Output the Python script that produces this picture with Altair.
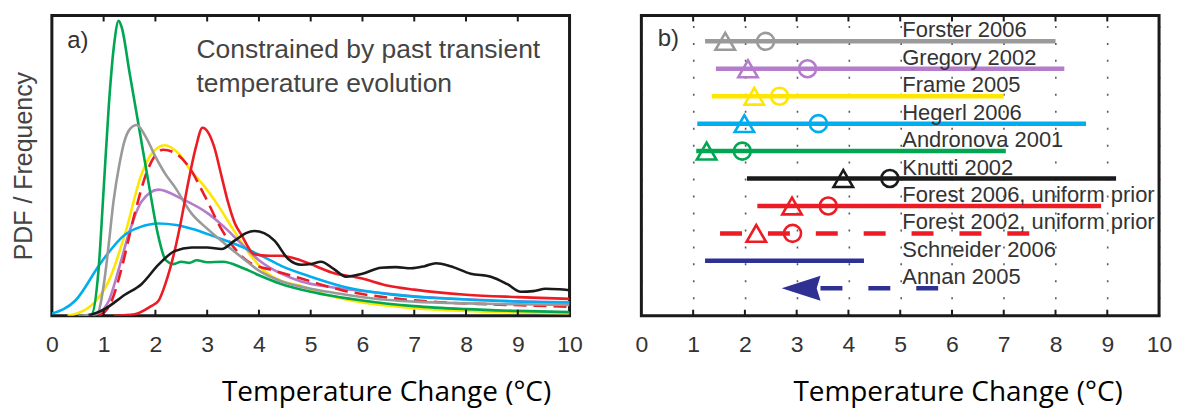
import altair as alt
import pandas as pd

# ---------------- data ----------------
tick_vals = [0, 1, 2, 3, 4, 5, 6, 7, 8, 9, 10]

series_names = ["Frame 2005", "Gregory 2002", "Forest 2002", "Hegerl 2006",
                "Andronova 2001", "Forster 2006", "Forest 2006", "Knutti 2002"]
series_colors = ["#ffe600", "#b57ccb", "#ed1c24", "#00aeef",
                 "#00a651", "#9a9a9a", "#ed1c24", "#1a1a1a"]
series_dashed = [False, False, True, False, False, False, False, False]

yellow_x = [0.3, 0.5, 0.8, 1.1, 1.41, 1.73, 1.93, 2.18, 2.45, 2.7, 2.95, 3.2, 3.53, 3.8, 4.1, 4.43, 4.8, 5.2, 6.03, 7.0, 8.0, 9.0, 10.0]
yellow_v = [0.0, 0.008, 0.04, 0.116, 0.27, 0.47, 0.54, 0.568, 0.54, 0.48, 0.43, 0.37, 0.28, 0.21, 0.15, 0.116, 0.1, 0.075, 0.043, 0.025, 0.016, 0.011, 0.008]

purple_x = [0.64, 0.9, 1.1, 1.3, 1.48, 1.73, 2.06, 2.5, 3.02, 3.3, 3.66, 4.0, 4.43, 4.8, 5.4, 5.97, 7.0, 8.0, 9.0, 10.0]
purple_v = [0.0, 0.01, 0.05, 0.16, 0.27, 0.38, 0.42, 0.39, 0.34, 0.3, 0.24, 0.185, 0.14, 0.115, 0.095, 0.083, 0.065, 0.055, 0.048, 0.045]

reddash_x = [0.9, 1.1, 1.2, 1.35, 1.6, 1.86, 2.15, 2.4, 2.63, 2.95, 3.27, 3.55, 3.79, 4.3, 4.8, 5.6, 6.5, 7.5, 8.5, 10.0]
reddash_v = [0.0, 0.03, 0.07, 0.16, 0.34, 0.49, 0.553, 0.54, 0.5, 0.4, 0.29, 0.22, 0.18, 0.15, 0.125, 0.085, 0.06, 0.045, 0.038, 0.03]

blue_x = [0.0, 0.45, 0.96, 1.41, 1.7, 2.06, 2.4, 2.7, 3.2, 3.66, 4.1, 4.43, 5.0, 5.72, 6.5, 7.5, 8.5, 10.0]
blue_v = [0.007, 0.05, 0.18, 0.27, 0.295, 0.307, 0.302, 0.29, 0.26, 0.23, 0.195, 0.166, 0.13, 0.093, 0.072, 0.058, 0.05, 0.043]

green_x = [0.6, 0.77, 0.9, 1.0, 1.1, 1.2, 1.29, 1.35, 1.5, 1.7, 1.9, 2.05, 2.2, 2.35, 2.5, 2.65, 2.8, 3.0, 3.3, 3.7, 4.0, 4.43, 5.0, 6.03, 7.0, 8.0, 9.0, 10.0]
green_v = [0.0, 0.005, 0.15, 0.42, 0.7, 0.9, 0.982, 0.96, 0.81, 0.61, 0.41, 0.27, 0.185, 0.172, 0.18, 0.176, 0.185, 0.178, 0.18, 0.158, 0.135, 0.106, 0.08, 0.05, 0.032, 0.022, 0.016, 0.012]

gray_x = [0.5, 0.87, 1.0, 1.1, 1.19, 1.3, 1.4, 1.5, 1.64, 1.8, 2.0, 2.2, 2.37, 2.7, 3.0, 3.34, 3.7, 4.0, 4.43, 5.0, 5.5, 6.33, 7.0, 8.0, 9.0, 10.0]
gray_v = [0.0, 0.005, 0.1, 0.24, 0.38, 0.5, 0.58, 0.62, 0.635, 0.6, 0.53, 0.47, 0.43, 0.34, 0.29, 0.24, 0.19, 0.15, 0.115, 0.09, 0.075, 0.055, 0.047, 0.041, 0.038, 0.036]

red_x = [1.2, 1.6, 1.9, 2.06, 2.2, 2.37, 2.5, 2.63, 2.78, 2.91, 3.02, 3.14, 3.27, 3.4, 3.53, 3.66, 3.91, 4.2, 4.43, 4.8, 5.1, 5.39, 5.97, 6.5, 7.0, 8.0, 9.0, 10.0]
red_v = [0.0, 0.005, 0.03, 0.05, 0.11, 0.215, 0.32, 0.44, 0.56, 0.626, 0.61, 0.56, 0.47, 0.38, 0.31, 0.27, 0.205, 0.2, 0.2, 0.185, 0.165, 0.145, 0.125, 0.1, 0.087, 0.07, 0.062, 0.056]

black_x = [0.71, 1.0, 1.41, 1.73, 2.06, 2.37, 2.7, 3.0, 3.28, 3.53, 3.75, 3.91, 4.1, 4.3, 4.56, 4.82, 5.0, 5.2, 5.45, 5.68, 6.0, 6.36, 6.65, 6.94, 7.2, 7.42, 7.7, 8.09, 8.48, 8.8, 9.06, 9.3, 9.54, 9.8, 10.0]
black_v = [0.0, 0.02, 0.07, 0.105, 0.17, 0.215, 0.227, 0.227, 0.222, 0.25, 0.275, 0.282, 0.275, 0.25, 0.19, 0.17, 0.172, 0.18, 0.155, 0.13, 0.14, 0.16, 0.162, 0.158, 0.165, 0.175, 0.165, 0.14, 0.13, 0.105, 0.08, 0.082, 0.09, 0.088, 0.085]

series_x = [yellow_x, purple_x, reddash_x, blue_x, green_x, gray_x, red_x, black_x]
series_v = [yellow_v, purple_v, reddash_v, blue_v, green_v, gray_v, red_v, black_v]

panel_a_label = ["a)"]
panel_a_text = ["Constrained by past transient", "temperature evolution"]
panel_b_label = ["b)"]

studies = ["Forster 2006", "Gregory 2002", "Frame 2005", "Hegerl 2006", "Andronova 2001",
           "Knutti 2002", "Forest 2006, uniform prior", "Forest 2002, uniform prior",
           "Schneider 2006", "Annan 2005"]
study_colors = ["#9a9a9a", "#b57ccb", "#ffe600", "#00aeef", "#00a651",
                "#1a1a1a", "#ed1c24", "#ed1c24", "#2e3192", "#2e3192"]
study_style = ["solid", "solid", "solid", "solid", "solid",
               "solid", "solid", "dashed", "solid", "dashed"]
range_lo = [1.23, 1.44, 1.36, 1.08, 1.06, 2.04, 2.24, 1.52, 1.23, 3.46]
range_hi = [8.0, 8.17, 7.0, 8.59, 7.04, 9.17, 8.88, 7.52, 4.3, 5.81]
mode_val = [1.62, 2.06, 2.18, 1.99, 1.26, 3.9, 2.91, 2.22, None, None]
median_val = [2.4, 3.21, 2.67, 3.42, 1.95, 4.8, 3.61, 2.92, None, None]
arrow_study = ["Annan 2005"]
arrow_x = [3.086]
label_x = 5.04

# ---------------- layout ----------------
W, H = 519, 301
FRAME = "#1a1a1a"
xscale = alt.Scale(domain=[0, 10], nice=False, zero=False)
TITLE = "Temperature Change (\u00b0C)"


def xaxis(title_x, grid):
    kw = dict(values=tick_vals, format="d", labelFont="Liberation Sans", labelFontSize=23,
              labelColor="#333333", labelPadding=18, labelFlush=False, labelOverlap=False,
              ticks=False, tickSize=0, domain=False, grid=grid,
              title=TITLE, titleFont="Open Sans", titleFontSize=28, titleFontWeight="normal",
              titleColor="#000000", titleX=title_x, titleY=85, titleAlign="center",
              titleBaseline="alphabetic")
    if grid:
        kw.update(gridDash=[2, 15], gridColor="#222222", gridWidth=1.6, gridOpacity=0.75)
    return alt.Axis(**kw)


def tick_rules(ax):
    tdf = pd.DataFrame({"x": tick_vals[1:-1]})
    base = alt.Chart(tdf)
    bot = base.mark_rule(color=FRAME, strokeWidth=2).encode(
        x=alt.X("x:Q", scale=xscale, axis=ax), y=alt.value(H - 6), y2=alt.value(H))
    top = base.mark_rule(color=FRAME, strokeWidth=2).encode(
        x=alt.X("x:Q", scale=xscale, axis=ax), y=alt.value(0), y2=alt.value(6))
    return [bot, top]


# ---------------- panel a ----------------
yscale_a = alt.Scale(domain=[0, 1.0], nice=False, zero=True)
yaxis_a = alt.Axis(title="PDF / Frequency", labels=False, ticks=False, domain=False, grid=False,
                   titleFont="Liberation Sans", titleFontSize=25, titleFontWeight="normal",
                   titleColor="#444444", titlePadding=15)
xaxis_a = xaxis(335, False)

layers_a = []
for i, (name, col, dashed) in enumerate(zip(series_names, series_colors, series_dashed)):
    df = pd.DataFrame({"x": series_x[i], "v": series_v[i]})
    mk = dict(color=col, strokeWidth=2.6, interpolate="monotone", clip=True)
    if dashed:
        mk["strokeDash"] = [13, 7]
    layers_a.append(
        alt.Chart(df).mark_line(**mk).encode(
            x=alt.X("x:Q", scale=xscale, axis=xaxis_a),
            y=alt.Y("v:Q", scale=yscale_a, axis=yaxis_a),
        )
    )

a_lab = alt.Chart(pd.DataFrame({"t": panel_a_label})).mark_text(
    font="Liberation Sans", fontSize=24, color="#333333", align="center", baseline="middle"
).encode(x=alt.value(26), y=alt.value(26), text="t:N")
a_txt1 = alt.Chart(pd.DataFrame({"t": panel_a_text[:1]})).mark_text(
    font="Liberation Sans", fontSize=26.5, color="#444444", align="left", baseline="middle"
).encode(x=alt.value(145), y=alt.value(35), text="t:N")
a_txt2 = alt.Chart(pd.DataFrame({"t": panel_a_text[1:]})).mark_text(
    font="Liberation Sans", fontSize=26.5, color="#444444", align="left", baseline="middle"
).encode(x=alt.value(145), y=alt.value(69), text="t:N")

left = alt.layer(*layers_a, *tick_rules(xaxis_a), a_lab, a_txt1, a_txt2).properties(
    width=W, height=H)

# ---------------- panel b ----------------
yscale_b = alt.Scale(domain=[-0.942, 10.0], reverse=True, nice=False, zero=False)
xaxis_b = xaxis(317, True)

bdf = pd.DataFrame({"study": studies, "row": list(range(len(studies))), "x": range_lo,
                    "x2": range_hi, "style": study_style})
color_b = alt.Color("study:N", scale=alt.Scale(domain=studies, range=study_colors), legend=None)

ranges = alt.Chart(bdf).mark_rule(strokeWidth=4.5, strokeCap="butt").encode(
    x=alt.X("x:Q", scale=xscale, axis=xaxis_b),
    x2="x2:Q",
    y=alt.Y("row:Q", scale=yscale_b, axis=None),
    color=color_b,
    strokeDash=alt.StrokeDash("style:N", scale=alt.Scale(domain=["solid", "dashed"],
                                                         range=[[1, 0], [22, 26]]), legend=None),
)

mdf = pd.DataFrame({"study": studies, "row": list(range(len(studies))), "x": mode_val}).dropna()
cdf = pd.DataFrame({"study": studies, "row": list(range(len(studies))), "x": median_val}).dropna()

modes = alt.Chart(mdf).mark_point(shape="triangle-up", size=380, filled=False, strokeWidth=2.6,
                                  opacity=1).encode(
    x=alt.X("x:Q", scale=xscale, axis=xaxis_b), y=alt.Y("row:Q", scale=yscale_b, axis=None),
    color=color_b)
medians = alt.Chart(cdf).mark_point(shape="circle", size=290, filled=False, strokeWidth=2.6,
                                    opacity=1).encode(
    x=alt.X("x:Q", scale=xscale, axis=xaxis_b), y=alt.Y("row:Q", scale=yscale_b, axis=None),
    color=color_b)

adf = pd.DataFrame({"study": arrow_study, "row": [studies.index(s) for s in arrow_study],
                    "x": arrow_x})
arrow = alt.Chart(adf).mark_point(shape="M -1 0 L 1 -0.64 L 0.8 0 L 1 0.64 Z", size=1521,
                                  filled=True, opacity=1, strokeWidth=0).encode(
    x=alt.X("x:Q", scale=xscale, axis=xaxis_b), y=alt.Y("row:Q", scale=yscale_b, axis=None),
    color=color_b)

ldf = pd.DataFrame({"study": studies, "row": list(range(len(studies))),
                    "x": [label_x] * len(studies)})
labels = alt.Chart(ldf).mark_text(font="Liberation Sans", fontSize=22, color="#333333",
                                  align="left", baseline="middle", dy=-11).encode(
    x=alt.X("x:Q", scale=xscale, axis=xaxis_b), y=alt.Y("row:Q", scale=yscale_b, axis=None),
    text="study:N")

b_lab = alt.Chart(pd.DataFrame({"t": panel_b_label})).mark_text(
    font="Liberation Sans", fontSize=24, color="#333333", align="center", baseline="middle"
).encode(x=alt.value(27), y=alt.value(24), text="t:N")

right = alt.layer(ranges, modes, medians, arrow, labels, *tick_rules(xaxis_b), b_lab).properties(
    width=W, height=H)

chart = alt.hconcat(left, right, spacing=72, bounds="flush").properties(
    padding={"left": 10, "top": 12, "right": 5, "bottom": 5}, background="white"
).configure_view(stroke=FRAME, strokeWidth=3)

chart.save("out.html", embed_options={"renderer": "svg", "actions": False})
